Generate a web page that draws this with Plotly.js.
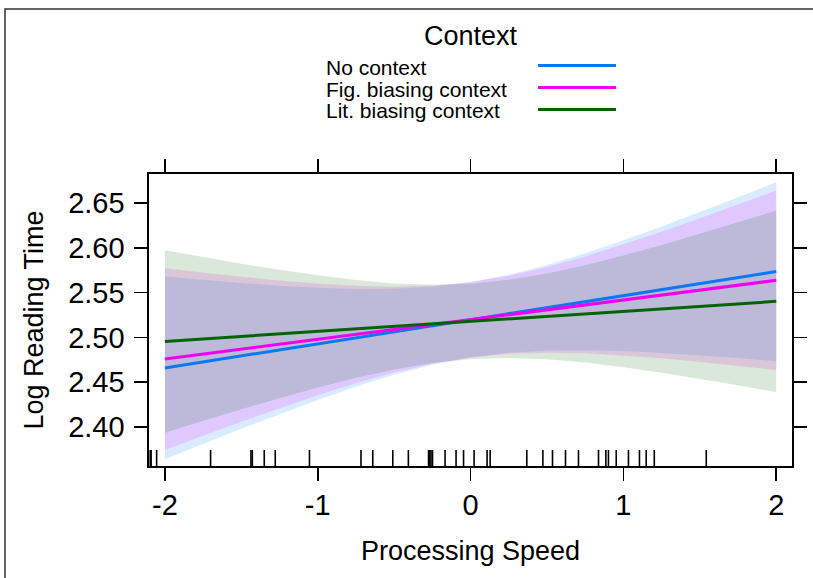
<!DOCTYPE html>
<html>
<head>
<meta charset="utf-8">
<script src="https://cdn.plot.ly/plotly-3.0.1.min.js"></script>
<style>
  html, body { margin: 0; padding: 0; background: #fff; overflow: hidden; }
  #chart { width: 813px; height: 578px; }
</style>
</head>
<body>
<div id="chart"></div>
<script>
// ---------- data ----------
const legendTitle = 'Context';
const groups = ['No context', 'Fig. biasing context', 'Lit. biasing context'];
const xGrid = [-2, -1.75, -1.5, -1.25, -1, -0.75, -0.5, -0.25, 0, 0.25, 0.5, 0.75, 1, 1.25, 1.5, 1.75, 2];

const fitNo   = [2.4659, 2.4726, 2.4794, 2.4861, 2.4928, 2.4995, 2.5063, 2.5130, 2.5197,
                 2.5264, 2.5332, 2.5399, 2.5466, 2.5533, 2.5601, 2.5668, 2.5735];
const upperNo = [2.5679, 2.5641, 2.5608, 2.5578, 2.5554, 2.5541, 2.5543, 2.5566, 2.5617,
                 2.5699, 2.5809, 2.5940, 2.6084, 2.6239, 2.6401, 2.6566, 2.6735];
const lowerNo = [2.3639, 2.3811, 2.3980, 2.4144, 2.4302, 2.4449, 2.4583, 2.4694, 2.4777,
                 2.4829, 2.4855, 2.4858, 2.4848, 2.4827, 2.4801, 2.4770, 2.4735];

const fitFig   = [2.4758, 2.4813, 2.4868, 2.4923, 2.4978, 2.5033, 2.5088, 2.5143, 2.5198,
                  2.5253, 2.5308, 2.5363, 2.5418, 2.5473, 2.5528, 2.5583, 2.5638];
const upperFig = [2.5772, 2.5723, 2.5678, 2.5637, 2.5602, 2.5577, 2.5567, 2.5579, 2.5618,
                  2.5688, 2.5786, 2.5904, 2.6038, 2.6180, 2.6330, 2.6484, 2.6641];
const lowerFig = [2.3744, 2.3903, 2.4058, 2.4209, 2.4354, 2.4489, 2.4609, 2.4707, 2.4778,
                  2.4818, 2.4830, 2.4822, 2.4798, 2.4766, 2.4726, 2.4682, 2.4635];

const fitLit   = [2.4955, 2.4983, 2.5011, 2.5039, 2.5067, 2.5095, 2.5123, 2.5151, 2.5179,
                  2.5207, 2.5235, 2.5263, 2.5291, 2.5319, 2.5347, 2.5375, 2.5403];
const upperLit = [2.5974, 2.5898, 2.5824, 2.5755, 2.5693, 2.5641, 2.5603, 2.5587, 2.5599,
                  2.5643, 2.5714, 2.5807, 2.5915, 2.6033, 2.6157, 2.6285, 2.6417];
const lowerLit = [2.3936, 2.4068, 2.4198, 2.4323, 2.4441, 2.4549, 2.4643, 2.4715, 2.4759,
                  2.4771, 2.4756, 2.4719, 2.4667, 2.4605, 2.4537, 2.4465, 2.4389];

const rugX = [-2.096, -2.090, -2.054, -1.701, -1.437, -1.428, -1.350, -1.278, -1.054,
              -0.717, -0.640, -0.509, -0.407, -0.275, -0.268, -0.259, -0.249, -0.167,
              -0.095, -0.046, 0.023, 0.108, 0.128, 0.368, 0.473, 0.536, 0.621, 0.706,
              0.837, 0.885, 0.902, 0.953, 1.033, 1.105, 1.149, 1.202, 1.542];

const xTicks = [-2, -1, 0, 1, 2];
const yTicks = [2.40, 2.45, 2.50, 2.55, 2.60, 2.65];
const xTitle = 'Processing Speed';
const yTitle = 'Log Reading Time';

// ---------- styling ----------
const lineColors = ['#0a78f0', '#f000f0', '#006400'];
const fillColors = ['rgba(0,128,255,0.15)', 'rgba(255,0,255,0.15)', 'rgba(0,100,0,0.15)'];
const FONT = 'Liberation Sans, Arial, sans-serif';

const W = 813, H = 578;
const M = { l: 149, r: 21, t: 174, b: 112 };
const PW = W - M.l - M.r, PH = H - M.t - M.b;
const px2x = p => (p - M.l) / PW;
const py2y = p => (H - M.b - p) / PH;

const fits = [fitNo, fitFig, fitLit];
const uppers = [upperNo, upperFig, upperLit];
const lowers = [lowerNo, lowerFig, lowerLit];

const traces = [];
groups.forEach((g, i) => {
  traces.push({
    x: xGrid.concat(xGrid.slice().reverse()),
    y: uppers[i].concat(lowers[i].slice().reverse()),
    type: 'scatter', mode: 'lines', fill: 'toself',
    fillcolor: fillColors[i], line: { width: 0 },
    hoverinfo: 'skip', showlegend: false
  });
});
groups.forEach((g, i) => {
  traces.push({
    x: xGrid, y: fits[i], type: 'scatter', mode: 'lines', name: g,
    line: { color: lineColors[i], width: 3 }, showlegend: false
  });
});

const shapes = rugX.map(v => ({
  type: 'line', xref: 'x', yref: 'paper', x0: v, x1: v, y0: 0, y1: 16 / PH,
  line: { color: '#000', width: 1.6 }
}));

// outer figure frame (left and top edges visible)
shapes.push({
  type: 'path', xref: 'paper', yref: 'paper',
  path: 'M ' + px2x(5) + ',' + py2y(600) + ' L ' + px2x(5) + ',' + py2y(9) +
        ' L ' + px2x(830) + ',' + py2y(9),
  line: { color: '#333', width: 1.5 }
});

// legend (lattice style key: labels left, lines right)
const annotations = [{
  text: legendTitle, xref: 'paper', yref: 'paper', x: px2x(471), y: py2y(36),
  xanchor: 'center', yanchor: 'middle', showarrow: false,
  font: { family: FONT, size: 27, color: '#000' }
}];
const keyY = [67, 89, 111];
groups.forEach((g, i) => {
  annotations.push({
    text: g, xref: 'paper', yref: 'paper', x: px2x(324), y: py2y(keyY[i]),
    xanchor: 'left', yanchor: 'middle', showarrow: false,
    font: { family: FONT, size: 21, color: '#000' }
  });
  shapes.push({
    type: 'line', xref: 'paper', yref: 'paper',
    x0: px2x(538), x1: px2x(616), y0: py2y(keyY[i] - 1.5), y1: py2y(keyY[i] - 1.5),
    line: { color: lineColors[i], width: 3 }
  });
});

const axisCommon = {
  showgrid: false, zeroline: false, showline: true, linecolor: '#000', linewidth: 1.6,
  mirror: 'ticks', ticks: 'outside', ticklen: 13, tickwidth: 1.6, tickcolor: '#000',
  tickfont: { family: FONT, size: 29, color: '#000' }
};

const layout = {
  width: W, height: H, margin: M, paper_bgcolor: '#fff', plot_bgcolor: '#fff',
  showlegend: false,
  xaxis: Object.assign({}, axisCommon, {
    range: [-2.104, 2.103], tickvals: xTicks, ticktext: xTicks.map(String),
    ticklabelstandoff: 0,
    title: { text: xTitle, font: { family: FONT, size: 27, color: '#000' }, standoff: 20 }
  }),
  yaxis: Object.assign({}, axisCommon, {
    range: [2.3564, 2.6825], tickvals: yTicks, ticktext: yTicks.map(v => v.toFixed(2)),
    ticklabelstandoff: 4,
    title: { text: yTitle, font: { family: FONT, size: 27, color: '#000' }, standoff: 16 }
  }),
  shapes: shapes, annotations: annotations
};

Plotly.newPlot('chart', traces, layout, { displayModeBar: false, staticPlot: true });
</script>
</body>
</html>
